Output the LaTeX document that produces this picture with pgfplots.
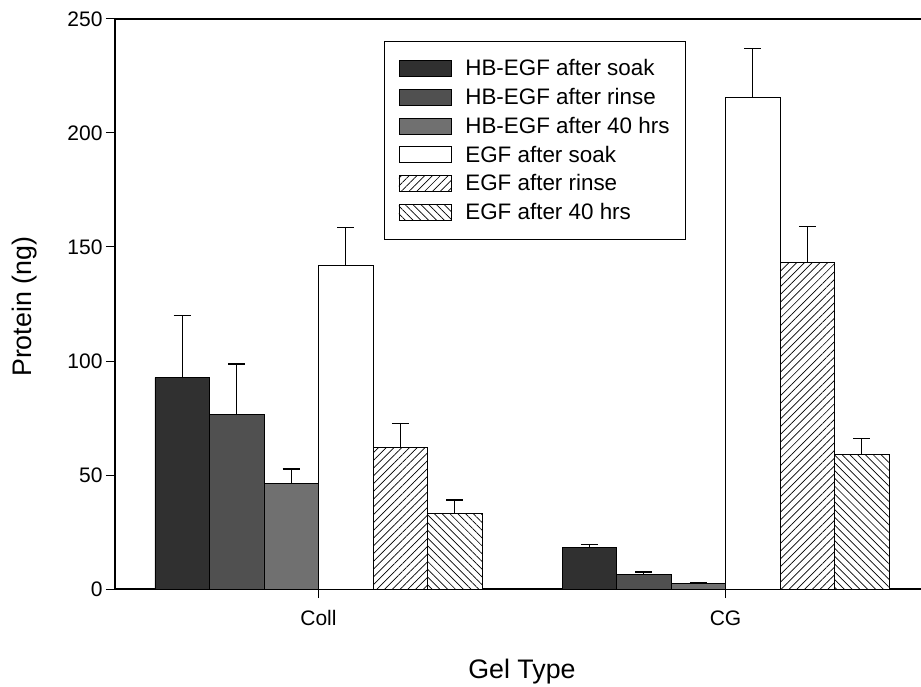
\documentclass[border=0pt]{standalone}
\usepackage{pgfplots}
\pgfplotsset{compat=1.18}
\usepackage{fontspec}
\setmainfont{Liberation Sans}
\usetikzlibrary{patterns.meta}
\definecolor{c1}{HTML}{303030}
\definecolor{c2}{HTML}{505050}
\definecolor{c3}{HTML}{707070}
\pgfplotsset{
  errstyle/.style={
    error bars/y dir=plus,
    error bars/y explicit,
    error bars/error bar style={black,line width=1.2pt},
    error bars/error mark options={black,rotate=90,line width=1.2pt,mark size=8.5pt},
  },
}
\begin{document}
\begin{tikzpicture}
\useasboundingbox (-115pt,-97pt) rectangle (806pt,589pt);
\clip (-115pt,-97pt) rectangle (806pt,589pt);
\begin{axis}[
  at={(0pt,0pt)}, anchor=south west,
  scale only axis, width=814pt, height=570pt,
  xmin=-0.5, xmax=1.5, ymin=0, ymax=250,
  xtick={0,1}, xticklabels={Coll,CG},
  ytick={0,50,100,150,200,250},
  tick align=outside, tick pos=left, major tick length=9pt,
  axis line style={line width=1.4pt},
  every tick/.style={black, line width=1pt},
  ticklabel style={font=\fontsize{21}{25}\selectfont},
  xticklabel style={yshift=-9pt},
  /pgf/number format/assume math mode=true,
  xlabel={Gel Type}, ylabel={Protein (ng)},
  label style={font=\fontsize{26.8}{31}\selectfont},
  xlabel style={at={(axis description cs:0.5,-0.144)},anchor=center},
  ylabel style={at={(axis description cs:-0.1106,0.495)},anchor=center},
  ybar=0pt, bar width=54.5pt,
  legend image code/.code={\draw[#1] (0pt,-8pt) rectangle (52pt,8pt); \path (64pt,0pt);},
  legend cell align=left,
  legend style={at={(rel axis cs:0.3305,0.961)}, anchor=north west,
    draw=black, line width=1pt, font=\fontsize{22.4}{26}\selectfont,
    row sep=7pt, inner xsep=14pt, inner ysep=16pt},
]
\addplot[fill=c1, draw=black, line width=0.8pt, errstyle]
  coordinates {(0,92.7) +- (0,27.2) (1,18.3) +- (0,1.1)};
\addlegendentry{HB-EGF after soak}
\addplot[fill=c2, draw=black, line width=0.8pt, errstyle]
  coordinates {(0,76.6) +- (0,22.1) (1,6.4) +- (0,1.1)};
\addlegendentry{HB-EGF after rinse}
\addplot[fill=c3, draw=black, line width=0.8pt, errstyle]
  coordinates {(0,46.2) +- (0,6.4) (1,2.3) +- (0,0.5)};
\addlegendentry{HB-EGF after 40 hrs\hspace{15pt}}
\addplot[fill=white, draw=black, line width=0.8pt, errstyle]
  coordinates {(0,142.0) +- (0,16.7) (1,215.7) +- (0,21.2)};
\addlegendentry{EGF after soak}
\addplot[fill=white, draw=black, line width=0.8pt, errstyle,
  postaction={pattern={Lines[angle=45,distance=5.5pt,line width=0.7pt]}}]
  coordinates {(0,62.2) +- (0,10.5) (1,143.1) +- (0,16.0)};
\addlegendentry{EGF after rinse}
\addplot[fill=white, draw=black, line width=0.8pt, errstyle,
  postaction={pattern={Lines[angle=-45,distance=5.5pt,line width=0.7pt]}}]
  coordinates {(0,33.0) +- (0,6.0) (1,58.9) +- (0,7.2)};
\addlegendentry{EGF after 40 hrs}
\end{axis}
\end{tikzpicture}
\end{document}
